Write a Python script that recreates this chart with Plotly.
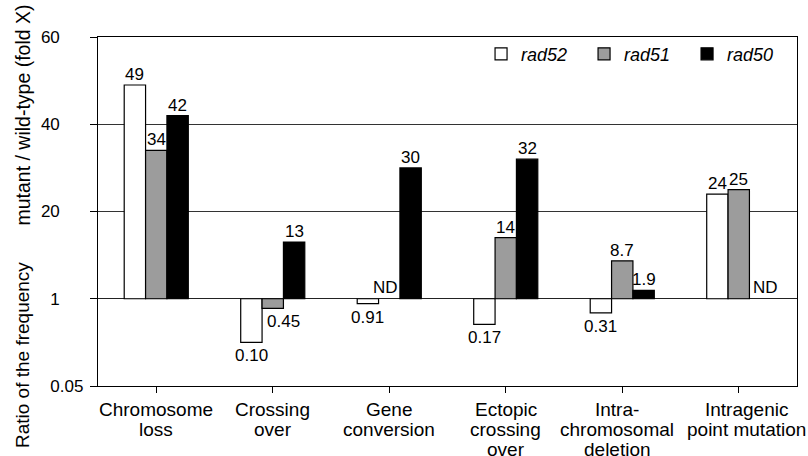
import plotly.graph_objects as go

# ---- data ----
categories = ["Chromosome<br>loss", "Crossing<br>over", "Gene<br>conversion",
              "Ectopic<br>crossing<br>over", "Intra-<br>chromosomal<br>deletion",
              "Intragenic<br>point mutation"]
rad52 = [49, 0.10, 0.91, 0.17, 0.31, 24]
rad51 = [34, 0.45, None, 14, 8.7, 25]
rad50 = [42, 13, 30, 32, 1.9, None]
series_names = ["rad52", "rad51", "rad50"]
y_tick_values = [0.05, 1, 20, 40, 60]
y_tick_labels = ["0.05", "1", "20", "40", "60"]


def fold(v):
    """Values >= 1 plotted linearly above the '1' baseline; values < 1 as -1/v (fold decrease)."""
    if v is None:
        return None
    return v if v >= 1 else -1.0 / v


def fold_tick(v):
    return 0 if v == 1 else fold(v)


def fmt(v):
    if v is None:
        return "ND"
    return f"{v:.2f}" if v < 1 else f"{v:g}"


def decimal_align(lbl):
    # integers are padded so that they line up on the decimal point of "0.05"
    # ('.' = 1 space width, each digit = 2 space widths in Helvetica metrics)
    return lbl if "." in lbl else lbl + "\u00a0" * 5


series = [rad52, rad51, rad50]
fills = ["white", "#9c9c9c", "black"]
FONT = "Liberation Sans, Arial, Helvetica, sans-serif"
XFS = 19          # category label font size
LINE_PITCH = 20   # tight print-style leading of category labels
cat_xshift = [0, 0, 0, 0, -5, 8]
bargap = 0.45
bw = (1 - bargap) / 3
xs = list(range(len(categories)))

fig = go.Figure()
for name, vals, col in zip(series_names, series, fills):
    fig.add_trace(go.Bar(
        x=xs, y=[fold(v) for v in vals], name=name,
        marker=dict(color=col, line=dict(color="black", width=1.2)),
    ))

# value labels
label_xshift = {("rad51", 1): 11, ("rad51", 2): -4, ("rad50", 5): 5}
annotations = []
for k, (name, vals) in enumerate(zip(series_names, series)):
    for i, v in enumerate(vals):
        xpos = i + (k - 1) * bw
        if v is None:
            ypos, ya, ys = 0, "bottom", 0
        elif v >= 1:
            ypos, ya, ys = v, "bottom", -1
        else:
            ypos, ya, ys = fold(v), "top", -2
        annotations.append(dict(
            x=xpos, y=ypos, xref="x", yref="y", text=fmt(v), showarrow=False,
            yanchor=ya, xanchor="center", yshift=ys,
            xshift=label_xshift.get((name, i), 0),
            font=dict(family=FONT, size=17, color="black")))

# category labels, one text per line with tight leading
for i, c in enumerate(categories):
    for j, line in enumerate(c.split("<br>")):
        annotations.append(dict(
            x=i, y=0, xref="x", yref="paper", text=line, showarrow=False,
            xanchor="center", yanchor="middle", xshift=cat_xshift[i],
            yshift=-(29.7 + LINE_PITCH * j - 0.3465 * XFS),
            font=dict(family=FONT, size=XFS, color="black")))

# y-axis title (two parts, rotated)
annotations.append(dict(text="Ratio of the frequency", xref="paper", yref="paper",
                        x=-0.1087, y=-0.1834, xanchor="center", yanchor="bottom",
                        textangle=-90, showarrow=False,
                        font=dict(family=FONT, size=19, color="black")))
annotations.append(dict(text="mutant / wild-type (fold X)", xref="paper", yref="paper",
                        x=-0.1087, y=0.4527, xanchor="center", yanchor="bottom",
                        textangle=-90, showarrow=False,
                        font=dict(family=FONT, size=19.5, color="black")))

fig.update_layout(
    width=808, height=456,
    margin=dict(l=98, r=11, t=37, b=70),
    paper_bgcolor="white", plot_bgcolor="white",
    barmode="group", bargap=bargap, bargroupgap=0,
    font=dict(family=FONT, size=17, color="black"),
    showlegend=True,
    legend=dict(orientation="h", x=0.548, y=1.004, xanchor="left", yanchor="top",
                entrywidth=58, entrywidthmode="pixels",
                font=dict(family=FONT, size=18, color="black", style="italic"),
                bgcolor="rgba(0,0,0,0)", itemclick=False),
    annotations=annotations,
)
fig.update_xaxes(
    automargin=False,
    range=[-0.5, len(categories) - 0.5],
    tickvals=xs, showticklabels=False,
    ticks="outside", ticklen=6, tickcolor="black", tickwidth=1,
    showline=True, linecolor="black", linewidth=1.3, mirror=True,
    showgrid=False, zeroline=False,
)
fig.update_yaxes(
    automargin=False,
    range=[fold_tick(0.05), fold_tick(60)],
    tickvals=[fold_tick(v) for v in y_tick_values],
    ticktext=[decimal_align(t) for t in y_tick_labels],
    ticks="outside", ticklen=7, tickcolor="black", tickwidth=1,
    showline=True, linecolor="black", linewidth=1.3, mirror=True,
    showgrid=True, gridcolor="#333333", gridwidth=1,
    zeroline=True, zerolinecolor="#222222", zerolinewidth=1.2,
    tickfont=dict(family=FONT, size=17, color="black"),
    ticklabelstandoff=3,
)

fig.write_html("out.html", config={"displayModeBar": False},
               post_script="document.body.style.margin='0px';")
